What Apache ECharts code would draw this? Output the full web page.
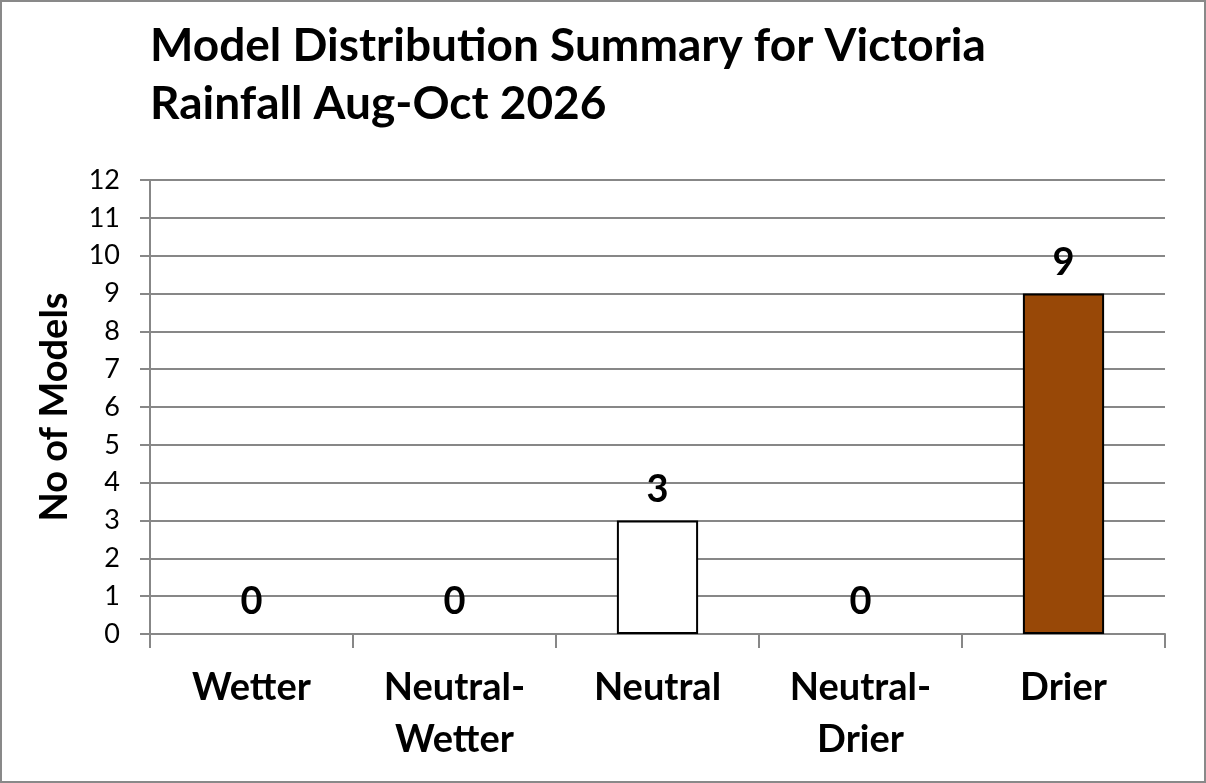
<!DOCTYPE html>
<html><head><meta charset="utf-8">
<script src="https://cdn.jsdelivr.net/npm/echarts@6/dist/echarts.min.js"></script>
<style>
html,body{margin:0;padding:0;background:#fff;}
#c{position:absolute;left:0;top:0;width:1206px;height:783px;box-sizing:border-box;border:2px solid #898989;}
#chart{width:1202px;height:779px;}
</style></head><body>
<div id="c"><div id="chart"></div></div>
<script>
const titleText = "Model Distribution Summary for Victoria\nRainfall Aug-Oct 2026";
const categories = ["Wetter", "Neutral-\nWetter", "Neutral", "Neutral-\nDrier", "Drier"];
const values = [0, 0, 3, 0, 9];
const barColors = ["#ffffff", "#ffffff", "#ffffff", "#ffffff", "#984807"];
const yAxisName = "No of Models";
const yMin = 0, yMax = 12, yInterval = 1;

const F = "Lato, 'Open Sans', sans-serif";
const chart = echarts.init(document.getElementById('chart'), null, {renderer:'canvas'});
chart.setOption({
  animation:false,
  title:{text:titleText,left:143,top:10,textStyle:{fontFamily:F,fontWeight:'bold',fontSize:46,color:'#000',lineHeight:58}},
  grid:{left:148,right:39,top:178,bottom:147,containLabel:false},
  xAxis:{type:'category',data:categories,
    axisLine:{lineStyle:{color:'#878787',width:2}},
    axisTick:{show:true,length:14,lineStyle:{color:'#878787',width:2}},
    axisLabel:{fontFamily:F,fontWeight:'bold',fontSize:38,color:'#000',lineHeight:52,margin:28}},
  yAxis:{type:'value',min:yMin,max:yMax,interval:yInterval,
    name:yAxisName,nameLocation:'middle',nameGap:76,nameRotate:90,
    nameTextStyle:{fontFamily:F,fontWeight:'bold',fontSize:38,color:'#000'},
    axisLine:{show:true,lineStyle:{color:'#878787',width:2}},
    axisTick:{show:true,length:10,lineStyle:{color:'#878787',width:2}},
    splitLine:{lineStyle:{color:'#878787',width:2}},
    axisLabel:{fontFamily:F,fontSize:27,color:'#000',margin:30}},
  series:[{type:'bar',barWidth:'40%',
    data:values.map((v,i)=>({value:v,itemStyle:{color:barColors[i],borderColor:v>0?'#000':'transparent',borderWidth:2}})),
    label:{show:true,position:'top',distance:12,fontFamily:F,fontWeight:'bold',fontSize:38,color:'#000'}}]
});
</script></body></html>
